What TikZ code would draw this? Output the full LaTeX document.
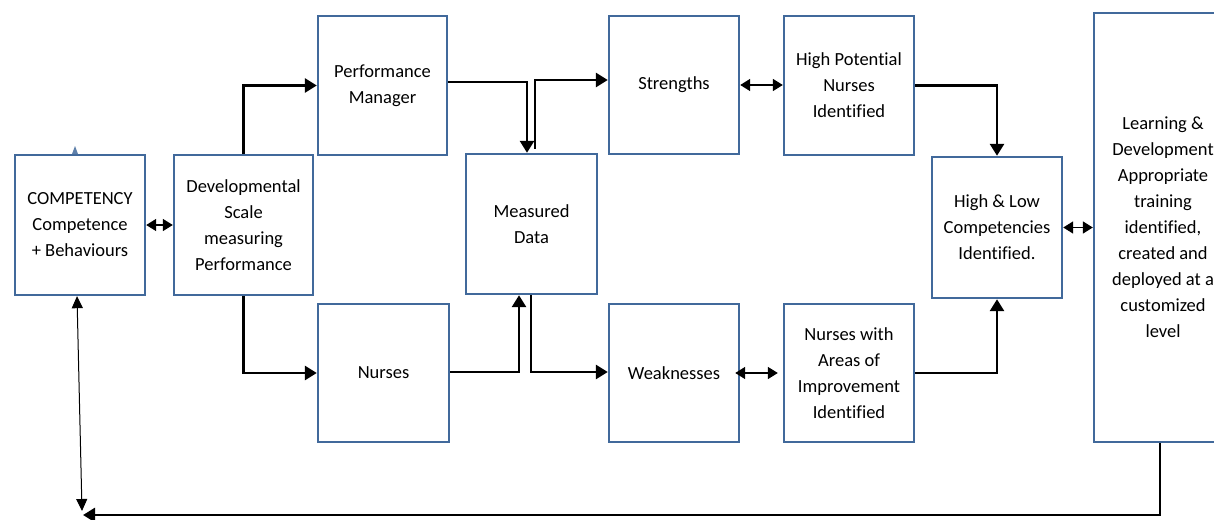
\documentclass[tikz,border=0pt]{standalone}
\usepackage{fontspec}
\setmainfont{Carlito}[Ligatures=NoCommon]
\usetikzlibrary{arrows.meta,calc}
\definecolor{boxblue}{RGB}{65,105,155}
\begin{document}
\begin{tikzpicture}[x=1pt,y=-1pt,
  box/.style={draw=boxblue,line width=2.4pt,rectangle,align=center,inner sep=0pt,
    font=\fontsize{18.5}{26}\selectfont},
  arr/.style={draw=black,line width=2.8pt,-{Triangle[length=12pt,width=14pt]}},
  dbl/.style={draw=black,line width=1.6pt,{Triangle[length=10pt,width=12pt]}-{Triangle[length=10pt,width=12pt]}},
  thinarr/.style={draw=black,line width=1pt,{Triangle[length=12pt,width=11pt]}-{Triangle[length=12pt,width=11pt]}}]
\useasboundingbox (0,0) rectangle (1214,519);
\clip (0,0) rectangle (1214,519);
\fill[white] (0,0) rectangle (1214,519);
\node[box,minimum width=130pt,minimum height=140pt] (comp) at (80,225) {COMPETENCY\\Competence\\+ Behaviours};
\node[box,minimum width=139pt,minimum height=140pt] (dev) at (243.5,225) {Developmental\\Scale\\measuring\\Performance};
\node[box,minimum width=129pt,minimum height=139pt] (pm) at (382.5,85.5) {Performance\\Manager};
\node[box,minimum width=131pt,minimum height=138pt] (nur) at (383.5,373) {Nurses};
\node[box,minimum width=131pt,minimum height=140pt] (md) at (531.5,224) {Measured\\Data};
\node[box,minimum width=130pt,minimum height=138pt] (str) at (674,85) {Strengths};
\node[box,minimum width=130pt,minimum height=138pt] (weak) at (674,373) {Weaknesses};
\node[box,minimum width=130pt,minimum height=139pt] (hp) at (849,85.5) {High Potential\\Nurses\\Identified};
\node[box,minimum width=130pt,minimum height=138pt] (nwa) at (849,373) {Nurses with\\Areas of\\Improvement\\Identified};
\node[box,minimum width=130pt,minimum height=141pt] (hl) at (997,227.5) {High \& Low\\Competencies\\Identified.};
\node[box,minimum width=138pt,minimum height=429pt] (ld) at (1163,227.5) {Learning \&\\Development\\Appropriate\\training\\identified,\\created and\\deployed at a\\customized\\level};
\coordinate (bl) at (83,515);
\coordinate (bt) at (82,511);
% small blue mark
\fill[boxblue!85] (72,154) -- (75,146) -- (78,154) -- cycle;
% connectors
\draw[dbl] (comp.east) -- (dev.west);
\draw[arr] (dev.north) |- (pm.west);
\draw[arr] (dev.south) |- (nur.west);
\draw[arr] ([yshift=3.5pt]pm.east) -| ([xshift=-4.5pt]md.north);
\draw[arr] ([xshift=3.5pt,yshift=4pt]md.north) |- ([yshift=5pt]str.west);
\draw[arr] ([yshift=1pt]nur.east) -| ([xshift=-12.5pt]md.south);
\draw[arr] ([xshift=-0.5pt]md.south) |- ([yshift=1pt]weak.west);
\draw[dbl] (str.east) -- (str.east -| hp.west);
\draw[dbl] ([xshift=-5pt]weak.east) -- ([xshift=-5pt]weak.east -| nwa.west);
\draw[arr] (hp.east) -| (hl.north);
\draw[arr] (nwa.east) -| (hl.south);
\draw[dbl] (hl.east) -- (hl.east -| ld.west);
\draw[arr] ([xshift=-3pt]ld.south) |- (bl);
\draw[thinarr] ([xshift=-3pt]comp.south) -- (bt);
\end{tikzpicture}
\end{document}
